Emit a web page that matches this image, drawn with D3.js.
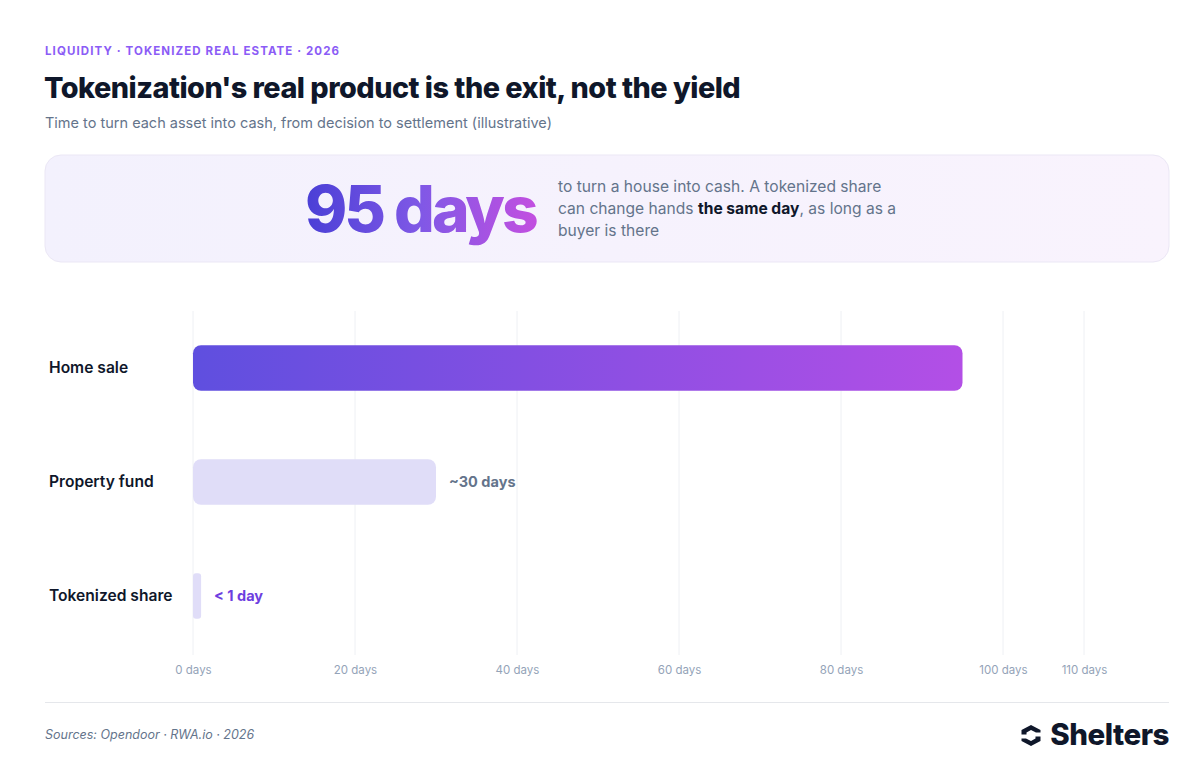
<!DOCTYPE html>
<html>
<head>
<meta charset="utf-8">
<script src="https://cdn.jsdelivr.net/npm/d3@7"></script>
<style>
  body { margin: 0; background: #fff; font-family: Inter, "Noto Sans", sans-serif; }
  svg text { font-family: Inter, "Noto Sans", sans-serif; }
</style>
</head>
<body>
<div id="chart"></div>
<script>
// data
var categories = ["Home sale", "Property fund", "Tokenized share"];
var days = [95, 30, 1];
var valueLabels = ["", "~30 days", "< 1 day"];
var tickValues = [0, 20, 40, 60, 80, 100, 110];

var W = 1200, H = 768;
var margin = {left: 193, right: 116};

var svg = d3.select("#chart").append("svg")
  .attr("width", W)
  .attr("height", H);

var defs = svg.append("defs");

var barGrad = defs.append("linearGradient").attr("id", "barGrad");
barGrad.append("stop").attr("offset", "0%").attr("stop-color", "#5f4fdf");
barGrad.append("stop").attr("offset", "100%").attr("stop-color", "#b34fe6");

var heroGrad = defs.append("linearGradient").attr("id", "heroGrad")
  .attr("gradientUnits", "userSpaceOnUse")
  .attr("x1", 305).attr("x2", 536);
heroGrad.append("stop").attr("offset", "0%").attr("stop-color", "#4a3fd6");
heroGrad.append("stop").attr("offset", "50%").attr("stop-color", "#8058e6");
heroGrad.append("stop").attr("offset", "100%").attr("stop-color", "#c24fe0");

var boxGrad = defs.append("linearGradient").attr("id", "boxGrad");
boxGrad.append("stop").attr("offset", "0%").attr("stop-color", "#f3f1fd");
boxGrad.append("stop").attr("offset", "100%").attr("stop-color", "#f9f3fd");

// header
svg.append("text")
  .attr("x", 45).attr("y", 55)
  .attr("fill", "#8b5cf6")
  .attr("font-size", 11.5)
  .attr("font-weight", 700)
  .attr("letter-spacing", "1.1px")
  .text("LIQUIDITY · TOKENIZED REAL ESTATE · 2026");

svg.append("text")
  .attr("x", 44).attr("y", 98)
  .attr("fill", "#0f172a")
  .attr("font-size", 28.8)
  .attr("font-weight", 800)
  .attr("letter-spacing", "-0.5px")
  .text("Tokenization's real product is the exit, not the yield");

svg.append("text")
  .attr("x", 45).attr("y", 128)
  .attr("fill", "#64748b")
  .attr("font-size", 14.5)
  .text("Time to turn each asset into cash, from decision to settlement (illustrative)");

// callout box
svg.append("rect")
  .attr("x", 45).attr("y", 155)
  .attr("width", 1124).attr("height", 107)
  .attr("rx", 16)
  .attr("fill", "url(#boxGrad)")
  .attr("stroke", "#ebe7f5");

svg.append("text")
  .attr("x", 305).attr("y", 232)
  .attr("fill", "url(#heroGrad)")
  .attr("font-size", 64)
  .attr("font-weight", 800)
  .attr("letter-spacing", "-3px")
  .text("95 days");

var calloutLines = [
  [{t: "to turn a house into cash. A tokenized share"}],
  [{t: "can change hands "}, {t: "the same day", b: true}, {t: ", as long as a"}],
  [{t: "buyer is there"}]
];
calloutLines.forEach(function(line, i) {
  var t = svg.append("text")
    .attr("x", 558).attr("y", 192 + i * 22)
    .attr("font-size", 15.6)
    .attr("fill", "#64748b");
  line.forEach(function(p) {
    t.append("tspan")
      .attr("font-weight", p.b ? 700 : 400)
      .attr("fill", p.b ? "#0f172a" : "#64748b")
      .text(p.t);
  });
});

// scales
var x = d3.scaleLinear()
  .domain([0, 110])
  .range([margin.left, W - margin.right]);

var y = d3.scaleBand()
  .domain(categories)
  .range([311, 653])
  .paddingInner(0.6)
  .paddingOuter(0.3);

// grid
svg.append("g")
  .selectAll("line")
  .data(tickValues)
  .enter().append("line")
    .attr("x1", function(d) { return x(d); })
    .attr("x2", function(d) { return x(d); })
    .attr("y1", 311).attr("y2", 655)
    .attr("stroke", "#eef0f4")
    .attr("stroke-width", 1);

// axis
var axis = svg.append("g")
  .attr("transform", "translate(0,656)")
  .call(d3.axisBottom(x).tickValues(tickValues).tickSize(0).tickPadding(10)
    .tickFormat(function(d) { return d + " days"; }));
axis.select(".domain").remove();
axis.selectAll("text")
  .attr("fill", "#94a3b8")
  .attr("font-size", 11.5);

// bars
svg.append("g")
  .selectAll("rect")
  .data(categories)
  .enter().append("rect")
    .attr("x", x(0))
    .attr("y", function(d) { return y(d); })
    .attr("width", function(d, i) { return x(days[i]) - x(0); })
    .attr("height", y.bandwidth())
    .attr("rx", function(d, i) { return i == 2 ? 3 : 8; })
    .attr("fill", function(d, i) { return i == 0 ? "url(#barGrad)" : "#e0ddf8"; });

// category labels
svg.append("g")
  .selectAll("text")
  .data(categories)
  .enter().append("text")
    .attr("x", 49)
    .attr("y", function(d) { return y(d) + y.bandwidth() / 2; })
    .attr("dy", "0.35em")
    .attr("fill", "#0f172a")
    .attr("font-size", 15.6)
    .attr("font-weight", 600)
    .text(function(d) { return d; });

// value labels
svg.append("g")
  .selectAll("text")
  .data(categories)
  .enter().append("text")
    .attr("x", function(d, i) { return x(days[i]) + 13; })
    .attr("y", function(d) { return y(d) + y.bandwidth() / 2; })
    .attr("dy", "0.35em")
    .attr("fill", function(d, i) { return i == 2 ? "#6d3ee0" : "#64748b"; })
    .attr("font-size", 14.5)
    .attr("font-weight", 700)
    .text(function(d, i) { return valueLabels[i]; });

// footer
svg.append("line")
  .attr("x1", 45).attr("x2", 1169)
  .attr("y1", 702.5).attr("y2", 702.5)
  .attr("stroke", "#e5e7eb");

svg.append("text")
  .attr("x", 45).attr("y", 739)
  .attr("fill", "#64748b")
  .attr("font-size", 12.5)
  .attr("font-style", "italic")
  .text("Sources: Opendoor · RWA.io · 2026");

// logo
var logo = svg.append("g").attr("transform", "translate(1031,735.5)");
logo.append("path")
  .attr("d", "M-9.5,-1 L-9.5,-5.5 L0,-10.5 L9.5,-5.5 L9.5,-3 L5,-3 L0,-5.5 L-4.5,-3 L-4.5,-1 Z")
  .attr("fill", "#0f172a");
logo.append("path")
  .attr("d", "M9.5,1 L9.5,5.5 L0,10.5 L-9.5,5.5 L-9.5,3 L-5,3 L0,5.5 L4.5,3 L4.5,1 Z")
  .attr("fill", "#0f172a");

svg.append("text")
  .attr("x", 1169).attr("y", 745)
  .attr("text-anchor", "end")
  .attr("fill", "#0f172a")
  .attr("font-size", 29.5)
  .attr("font-weight", 800)
  .attr("letter-spacing", "-0.5px")
  .text("Shelters");
</script>
</body>
</html>
